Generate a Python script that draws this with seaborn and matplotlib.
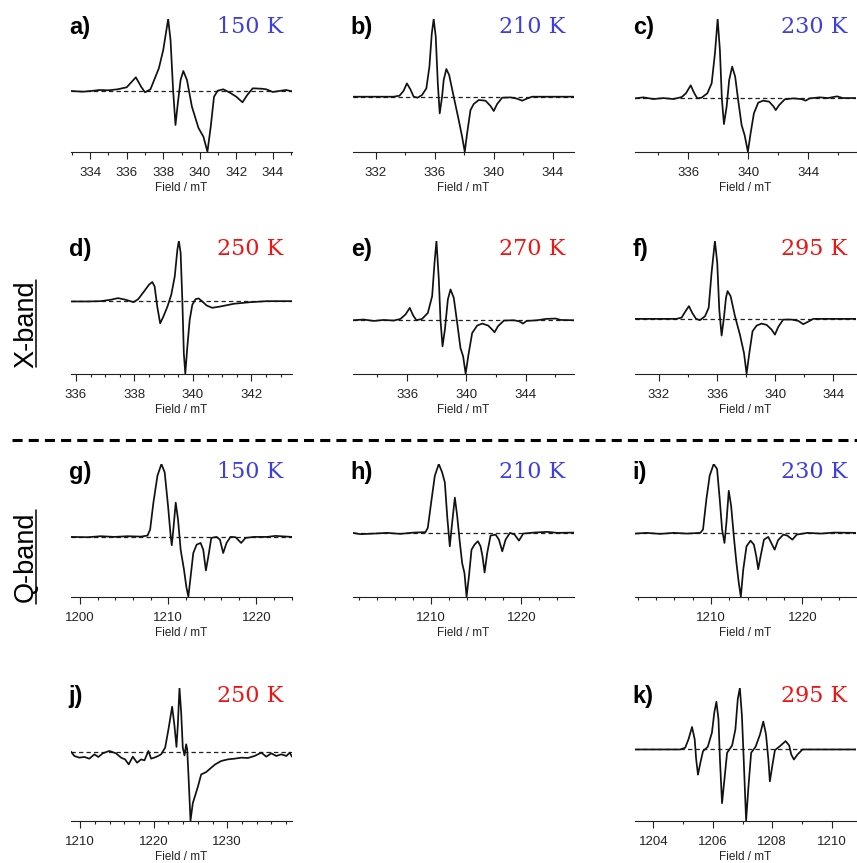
import matplotlib
matplotlib.use("Agg")
import matplotlib.pyplot as plt
import seaborn as sns
from matplotlib.lines import Line2D
from matplotlib.ticker import MultipleLocator

# X-band spectra (field in mT, signal in arbitrary units, baseline = 0)
a_field = [332.95, 333.6, 334.2, 334.5, 335.0, 335.5, 336.0, 336.5, 336.8, 337.0, 337.3, 337.76, 338.0, 338.27,
           338.4, 338.54, 338.67, 338.8, 338.95, 339.1, 339.3, 339.57, 339.93, 340.2, 340.42, 340.6, 340.78,
           340.98, 341.29, 341.65, 342.0, 342.34, 342.6, 342.9, 343.37, 343.64, 344.0, 344.45, 344.72, 345.05]
a_signal = [0, -0.7, 0.3, 1.0, 0.7, 1.7, 3.7, 13.7, 4.0, -1.3, 1.7, 22.7, 41.0, 72.0,
            51.0, 1.0, -34.0, -12.0, 11.0, 20.0, 11.0, -15.7, -37.0, -45.7, -60.7, -35.7, -5.7,
            0.3, 1.7, -1.7, -5.7, -11.3, -4.0, 2.7, 2.3, 1.7, -1.0, 0.3, 1.0, -0.3]

b_field = [330.44, 333.2, 333.6, 333.88, 334.1, 334.34, 334.56, 334.83, 335.13, 335.42, 335.63, 335.79, 335.92,
           336.06, 336.2, 336.33, 336.49, 336.6, 336.78, 336.97, 337.28, 337.62, 337.85, 338.03, 338.19, 338.42,
           338.64, 338.98, 339.44, 339.78, 340.0, 340.23, 340.57, 341.14, 341.59, 341.93, 342.23, 342.61, 345.45]
b_signal = [0, 0, 1, 6, 13.3, 7.3, 0, -1, 1.7, 8.3, 30, 63, 77.7,
            60, 13.3, -16.7, 0, 16.7, 27.7, 21.7, 0, -23.3, -40, -55, -36.7, -13.3,
            -7.3, -3.3, -4, -9.3, -14.3, -7.3, -1, -0.7, -2, -4, -2, 0, 0]

c_field = [332.44, 333.0, 333.67, 334.33, 335.0, 335.56, 335.84, 336.16, 336.38, 336.6, 336.89, 337.27, 337.56,
           337.78, 337.96, 338.11, 338.24, 338.38, 338.56, 338.73, 338.93, 339.13, 339.33, 339.56, 339.76, 339.98,
           340.16, 340.38, 340.67, 341.0, 341.4, 341.67, 341.84, 342.07, 342.44, 343.0, 343.56, 343.84, 344.1,
           344.78, 345.33, 345.93, 346.33, 347.2]
c_signal = [0, 1, -0.7, 0.3, -0.7, 1.3, 5, 13, 5.7, 0, 0.7, 5, 15,
            45, 79.3, 48.3, 0, -25.7, -8.3, 18.3, 31.7, 21.7, -1.7, -26.7, -36.7, -53.3,
            -35, -15, -4.3, -2.3, -3.3, -7.7, -11.7, -6.7, -1, 0, -0.7, -2.3, 0,
            1, 0.3, 2, 0.3, 0.3]

d_field = [335.83, 336.4, 336.85, 337.19, 337.44, 337.7, 337.97, 338.13, 338.33, 338.5, 338.61, 338.69, 338.78,
           338.88, 338.99, 339.13, 339.26, 339.38, 339.47, 339.52, 339.58, 339.64, 339.69, 339.74, 339.81, 339.89,
           339.98, 340.09, 340.2, 340.32, 340.47, 340.66, 340.94, 341.4, 341.97, 342.53, 343.39]
d_signal = [0, 0, 0.3, 1.7, 3.3, 1.7, -0.7, 2.3, 10, 16.7, 19.3, 15, -5,
            -21.7, -15, -5, 6.7, 25, 51.7, 60, 48.3, 0, -51.7, -71.7, -45, -18.3,
            -3.3, 2.3, 3, 0, -4, -6.3, -5, -2.3, -0.7, 0.3, 0.3]

e_field = [332.35, 333.07, 333.75, 334.42, 335.1, 335.55, 335.89, 336.18, 336.41, 336.63, 337.01, 337.4, 337.69,
           337.85, 337.98, 338.14, 338.25, 338.39, 338.55, 338.75, 338.93, 339.15, 339.38, 339.6, 339.78, 339.95,
           340.14, 340.39, 340.73, 341.07, 341.47, 341.74, 341.9, 342.13, 342.53, 343.2, 343.55, 343.82, 344.06,
           344.78, 345.35, 346.02, 346.36, 347.26]
e_signal = [0, 0.7, -0.7, 0.3, -0.3, 1.3, 5.7, 12.3, 4.7, 0, 1.3, 7.3, 24,
            57.3, 79, 40.7, 0.7, -26, -9.3, 20.7, 30.7, 22.3, -2.7, -27.7, -36, -53.3,
            -34.3, -12.7, -5.3, -3.3, -5.3, -9.3, -12, -6, -0.3, 0, -1, -3.3, -0.7,
            0, 1.3, 1.7, 0.3, 0]

f_field = [330.35, 333.2, 333.56, 333.83, 334.06, 334.29, 334.55, 334.82, 335.17, 335.42, 335.62, 335.85, 336.01,
           336.15, 336.31, 336.47, 336.61, 336.72, 336.93, 337.23, 337.57, 337.85, 338.03, 338.22, 338.44, 338.72,
           339.06, 339.41, 339.75, 339.98, 340.21, 340.55, 341.13, 341.59, 341.93, 342.2, 342.62, 345.56]
f_signal = [0, 0, 1.3, 7.7, 12.7, 6, 0, -1.3, 2.7, 11, 46, 77.7, 56,
            9.3, -16.7, 1, 21, 27.7, 22.7, 2.7, -15.7, -34, -54.7, -34, -12.3, -6.7,
            -4.7, -6, -10.7, -15.7, -8, -0.7, -0.7, -2, -5.3, -3.3, 0, 0]

# Q-band spectra
g_field = [1198.98, 1200.87, 1202.37, 1203.88, 1205.39, 1206.89, 1207.65, 1207.95, 1208.32, 1208.78, 1209.23,
           1209.6, 1209.98, 1210.28, 1210.4, 1210.58, 1210.85, 1211.11, 1211.41, 1211.79, 1212.05, 1212.28,
           1212.54, 1212.84, 1213.22, 1213.67, 1213.97, 1214.27, 1214.58, 1214.88, 1215.48, 1215.86, 1216.23,
           1216.61, 1217.06, 1217.63, 1218.27, 1218.76, 1219.7, 1221.2, 1222.15, 1224.03]
g_signal = [0, -0.3, 0.7, 0, 0.7, 0.3, 1.3, 7.3, 34, 60.7, 72.3,
            64, 30.7, 0.7, -8.3, 7.3, 34, 17.3, -12.7, -32.7, -49.3, -59.3,
            -39.3, -16, -7.7, -6, -12.7, -33.3, -17.7, -1, 0, -2.7, -16,
            -6, 0, -0.3, -6, -1, 0, 0, 1, 0]

h_field = [1201.33, 1202.15, 1203.63, 1205.11, 1206.59, 1208.07, 1209.37, 1209.63, 1210.0, 1210.41, 1210.85,
           1211.22, 1211.52, 1211.78, 1212.07, 1212.33, 1212.63, 1212.89, 1213.15, 1213.44, 1213.7, 1213.93,
           1214.19, 1214.48, 1214.81, 1215.19, 1215.48, 1215.7, 1215.93, 1216.22, 1216.59, 1217.15, 1217.52,
           1217.89, 1218.26, 1218.74, 1219.26, 1219.74, 1220.22, 1221.41, 1222.89, 1224.0, 1225.85]
h_signal = [0, -1.3, -0.7, 0, -1, 0.3, 0.7, 5, 30, 56.7, 68.3,
            60, 50, 16.7, -13.3, 10, 35, 16.7, -6.7, -30, -40, -63.3,
            -43.3, -16.7, -11.7, -8.3, -13.3, -23.3, -39.3, -20, -2.7, -1.7, -6.7,
            -18.3, -6.7, 0, -1.7, -7.7, -0.7, 0.3, 1, 0, 0.3]

i_field = [1201.68, 1202.97, 1204.43, 1205.9, 1207.36, 1208.83, 1209.12, 1209.49, 1209.85, 1210.29, 1210.66,
           1210.95, 1211.21, 1211.47, 1211.68, 1211.94, 1212.2, 1212.49, 1212.78, 1213.04, 1213.26, 1213.52,
           1213.88, 1214.32, 1214.69, 1214.95, 1215.16, 1215.42, 1215.79, 1216.26, 1216.59, 1216.96, 1217.33,
           1217.91, 1218.35, 1218.9, 1219.38, 1220.55, 1222.01, 1223.48, 1225.86]
i_signal = [-0.7, 0, -1, 0, -0.7, 0, 3.3, 33.3, 56.7, 68.3, 63.3,
            33.3, 3.3, -10, 10, 41.7, 26.7, -3.3, -30, -50, -63.3, -36.7,
            -13.3, -7.7, -11.7, -23.3, -36, -23.3, -6.7, -4, -10, -16.7, -7.3,
            -1.7, -2.7, -6.7, -1.7, 0, -0.7, 0.3, 0]

j_field = [1208.73, 1209.18, 1209.86, 1210.55, 1211.23, 1211.91, 1212.45, 1213.05, 1213.95, 1214.86, 1215.55,
           1216.09, 1216.59, 1217.14, 1217.73, 1218.27, 1218.73, 1219.27, 1219.64, 1220.32, 1221.0, 1221.55,
           1222.0, 1222.5, 1222.82, 1223.09, 1223.27, 1223.5, 1223.73, 1223.95, 1224.18, 1224.41, 1224.55,
           1224.73, 1225.0, 1225.32, 1225.68, 1226.09, 1226.45, 1227.14, 1227.82, 1228.36, 1229.18, 1230.09,
           1231.0, 1231.91, 1232.82, 1233.73, 1234.64, 1235.32, 1236.0, 1236.68, 1237.36, 1238.05, 1238.5,
           1238.82]
j_signal = [0, -4.3, -6, -5.3, -7, -2.7, -5.3, -1.7, 0.7, -1.7, -6,
            -7.7, -12.7, -5, -11, -7.7, -8.7, 0.7, -7, -5.3, -2.7, 4,
            22.3, 44.7, 25.7, 4.7, 25.7, 63.3, 39, 4, -3.7, 7.3, 2.3,
            -24.3, -68.7, -51, -42.7, -32.7, -22.7, -20.3, -16, -12.7, -9.3, -7.7,
            -7, -6, -6.3, -4.3, -1, -5, -1.7, -4.3, -2.7, -4.3, -1,
            -5]

k_field = [1203.38, 1204.9, 1205.07, 1205.18, 1205.3, 1205.39, 1205.44, 1205.5, 1205.58, 1205.67, 1205.83,
           1205.97, 1206.05, 1206.12, 1206.19, 1206.24, 1206.31, 1206.39, 1206.48, 1206.65, 1206.76, 1206.84,
           1206.91, 1206.98, 1207.04, 1207.12, 1207.2, 1207.29, 1207.44, 1207.59, 1207.7, 1207.79, 1207.87,
           1207.92, 1208.0, 1208.09, 1208.26, 1208.45, 1208.57, 1208.64, 1208.73, 1208.85, 1209.02, 1210.82]
k_signal = [0, 0, 1.7, 10, 22.3, 10, -10, -25, -13.3, -1.7, 2.7,
            16.7, 36.7, 47.3, 30, -10, -53.3, -30, -3.3, 4, 20, 50,
            61, 33.3, -10, -70.7, -36.7, -3.3, 2.7, 15, 27.7, 15, -10,
            -31.7, -16.7, -0.7, 3.3, 8.3, 4, -5, -10, -5, 0, 0]

BLUE = "#3f3fe0"
RED = "#f01515"

sns.set_theme(style="ticks")
plt.rcParams["font.family"] = ["Liberation Sans", "DejaVu Sans"]

W, H = 857, 863
fig = plt.figure(figsize=(W / 100, H / 100), dpi=100)

# label, field, signal, x range, major step, minor step, temperature, colour, row, col
panels = [
    ("a)", a_field, a_signal, (332.95, 345.05), 2, 1, "150 K", BLUE, 0, 0),
    ("b)", b_field, b_signal, (330.44, 345.45), 4, 2, "210 K", BLUE, 0, 1),
    ("c)", c_field, c_signal, (332.44, 347.2), 4, 2, "230 K", BLUE, 0, 2),
    ("d)", d_field, d_signal, (335.83, 343.39), 2, 0.5, "250 K", RED, 1, 0),
    ("e)", e_field, e_signal, (332.35, 347.26), 4, 2, "270 K", RED, 1, 1),
    ("f)", f_field, f_signal, (330.35, 345.56), 4, 2, "295 K", RED, 1, 2),
    ("g)", g_field, g_signal, (1198.98, 1224.03), 10, 2, "150 K", BLUE, 2, 0),
    ("h)", h_field, h_signal, (1201.33, 1225.85), 10, 2, "210 K", BLUE, 2, 1),
    ("i)", i_field, i_signal, (1201.68, 1225.86), 10, 2, "230 K", BLUE, 2, 2),
    ("j)", j_field, j_signal, (1208.73, 1238.82), 10, 2, "250 K", RED, 3, 0),
    ("k)", k_field, k_signal, (1203.38, 1210.82), 2, 1, "295 K", RED, 3, 2),
]

col_left = [71, 353, 635]
row_axis = [151.7, 373.7, 596.7, 820.7]
ax_w, ax_h = 221, 132.7

for label, x, y, xlim, major, minor, temp, tcolor, r, c in panels:
    ax = fig.add_axes([col_left[c] / W, 1 - row_axis[r] / H, ax_w / W, ax_h / H])
    ax.set_facecolor("none")
    ax.axhline(0, color="#222222", lw=0.9, ls=(0, (3.5, 2.5)), zorder=1)
    sns.lineplot(x=x, y=y, ax=ax, color="#111111", linewidth=1.25,
                 estimator=None, sort=False, zorder=2)
    ax.set_xlim(*xlim)
    ax.set_ylim(min(y), max(y))
    sns.despine(ax=ax, left=True)
    ax.spines["bottom"].set_linewidth(0.8)
    ax.spines["bottom"].set_color("#222222")
    ax.set_yticks([])
    ax.set_ylabel("")
    ax.xaxis.set_major_locator(MultipleLocator(major))
    ax.xaxis.set_minor_locator(MultipleLocator(minor))
    ax.tick_params(axis="x", which="major", length=5, width=0.8, pad=6,
                   labelsize=9.5, color="#222222", labelcolor="#222222")
    ax.tick_params(axis="x", which="minor", length=2.5, width=0.8, color="#222222")
    ax.set_xlabel("Field / mT", fontsize=8.5, labelpad=2.5, color="#222222")
    ax.text(-0.01, 0.89, label, transform=ax.transAxes, ha="left", va="baseline",
            fontsize=17, fontweight="bold", color="black")
    ax.text(0.962, 0.892, temp, transform=ax.transAxes, ha="right", va="baseline",
            fontsize=16, family="DejaVu Serif", color=tcolor)

# separator between X-band and Q-band rows
fig.add_artist(Line2D([12 / W, 1.0], [1 - 440 / H, 1 - 440 / H], transform=fig.transFigure,
                      color="black", lw=2.2, ls=(0, (3.3, 2.0))))

# band labels with underline
for text, yc, y0, y1 in [("X-band", 324, 280, 367), ("Q-band", 557, 510, 604)]:
    fig.text(33 / W, 1 - yc / H, text, rotation=90, rotation_mode="anchor",
             ha="center", va="baseline", fontsize=19.5, color="black")
    fig.add_artist(Line2D([36 / W, 36 / W], [1 - y0 / H, 1 - y1 / H],
                          transform=fig.transFigure, color="black", lw=1.1))

fig.savefig("out.png", dpi=100)
